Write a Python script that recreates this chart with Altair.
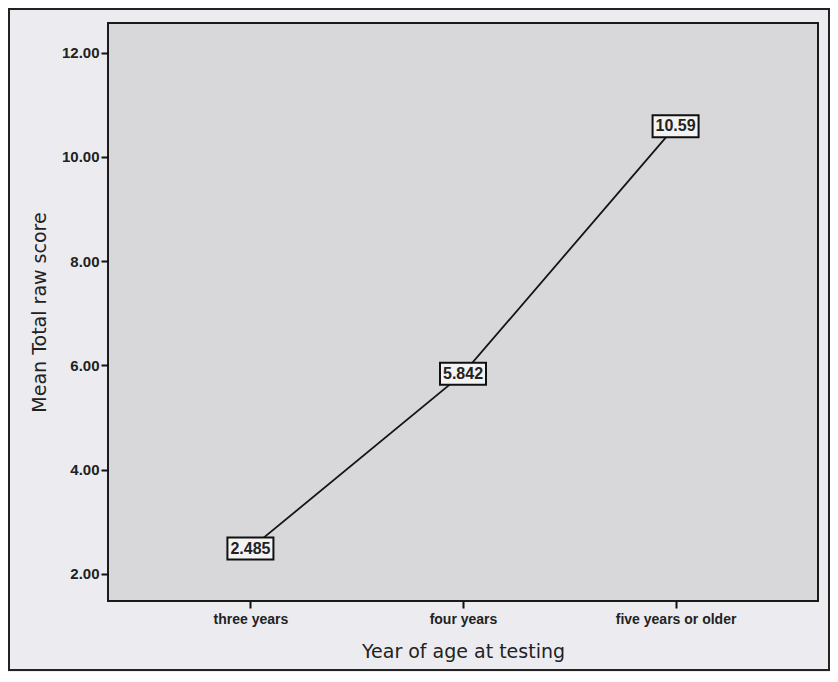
import altair as alt
import pandas as pd

categories = ["three years", "four years", "five years or older"]
means = [2.485, 5.842, 10.59]
labels = ["2.485", "5.842", "10.59"]
y_ticks = [2, 4, 6, 8, 10, 12]

df = pd.DataFrame({"age": categories, "mean": means, "label": labels})

x_enc = alt.X(
    "age:N",
    sort=categories,
    scale=alt.Scale(type="point", padding=0.67),
    axis=alt.Axis(
        title="Year of age at testing",
        labelAngle=0,
        domain=False,
        ticks=True,
        tickSize=7,
        tickWidth=2,
        tickColor="#111",
        labelFont="Liberation Sans",
        labelFontWeight="bold",
        labelFontSize=14,
        labelColor="#222",
        labelPadding=4,
        titleFont="DejaVu Sans",
        titleFontWeight="normal",
        titleFontSize=19,
        titleColor="#222",
        titlePadding=16,
    ),
)
y_enc = alt.Y(
    "mean:Q",
    scale=alt.Scale(domain=[1.48, 12.57], nice=False, zero=False),
    axis=alt.Axis(
        title="Mean Total raw score",
        values=y_ticks,
        format=".2f",
        grid=False,
        domain=False,
        tickSize=7,
        tickWidth=2,
        tickColor="#111",
        labelFont="Liberation Sans",
        labelFontWeight="bold",
        labelFontSize=15,
        labelColor="#222",
        labelPadding=2,
        titleFont="DejaVu Sans",
        titleFontWeight="normal",
        titleFontSize=19,
        titleColor="#222",
        titlePadding=12,
    ),
)

base = alt.Chart(df)

frame = base.mark_rect(fill="#ececf0", fillOpacity=0, stroke="#222", strokeWidth=2).encode(
    x=alt.value(-99), x2=alt.value(721), y=alt.value(-14), y2=alt.value(647)
).transform_filter(alt.datum.age == categories[0])

line = base.mark_line(color="#151515", strokeWidth=1.8).encode(x=x_enc, y=y_enc)

boxes = base.mark_rect(width=46, height=22, fill="#f3f3f3", stroke="#111", strokeWidth=2).encode(
    x=alt.X("age:N", sort=categories), y="mean:Q"
)

texts = base.mark_text(
    font="Liberation Sans", fontWeight="bold", fontSize=16, color="#222", baseline="middle", align="center"
).encode(x=alt.X("age:N", sort=categories), y="mean:Q", text="label:N")

chart = (
    alt.layer(frame, line, boxes, texts)
    .properties(
        width=710,
        height=578,
        autosize=alt.AutoSizeParams(type="none"),
        padding={"left": 100, "top": 15, "right": 12, "bottom": 71},
        background="#ececf0",
    )
    .configure_view(fill="#d8d8da", stroke="#1a1a1a", strokeWidth=2)
)

chart.save("out.html", embed_options={"renderer": "svg", "actions": False})
